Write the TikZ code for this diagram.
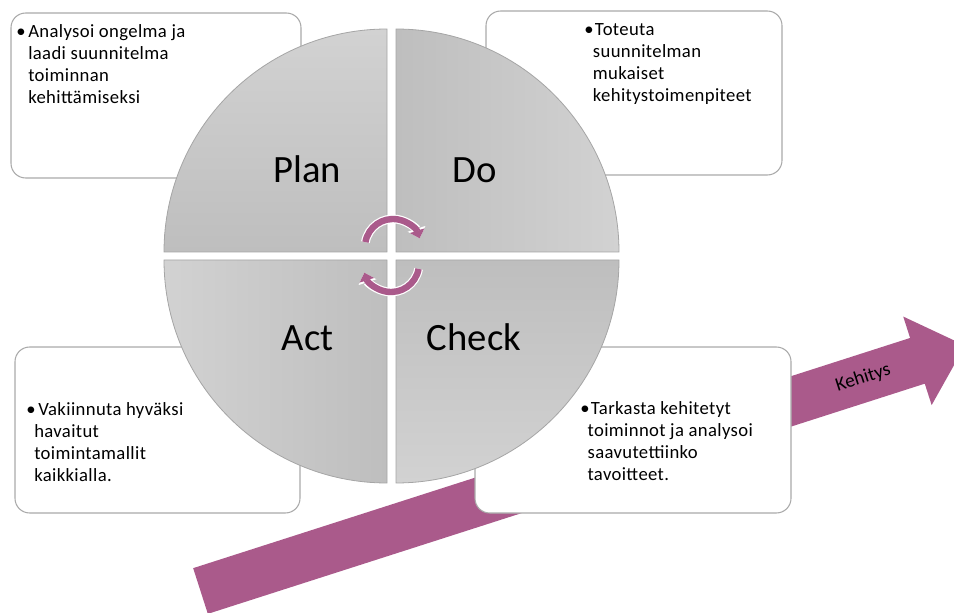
\documentclass[tikz,border=0pt]{standalone}
\usepackage{fontspec}
\setmainfont{Carlito}
\newfontfamily\notefont{Carlito}[LetterSpace=2]
\usepackage{xcolor}
\usetikzlibrary{arrows.meta,positioning}
\definecolor{cyclepurple}{RGB}{170,90,139}
\definecolor{boxgray}{RGB}{170,170,170}
\definecolor{quadlight}{RGB}{210,210,210}
\definecolor{quaddark}{RGB}{190,190,190}
\definecolor{quadedge}{RGB}{165,165,165}

\newcommand{\dotmark}[1]{\makebox[#1][l]{\textbullet}}
\newcommand{\dotgap}[1]{\hspace*{#1}}

\tikzset{
  infobox/.style={draw=boxgray, line width=0.8pt, rounded corners=11pt, fill=white},
  quarter/.style={draw=quadedge, line width=0.6pt},
  % anchored on the baseline of the last line
  notetext/.style={anchor=base west, inner sep=0pt, align=left,
    font=\notefont\fontsize{14pt}{16.5pt}\selectfont},
  phase/.style={anchor=base, inner sep=0pt, font=\fontsize{29pt}{34pt}\selectfont},
  turnedge/.style={white, line width=6.6pt, -{Triangle[width=13.5pt,length=7.5pt]}},
  turn/.style={cyclepurple, line width=4.8pt, -{Triangle[width=11pt,length=6pt]}},
}

\begin{document}
\begin{tikzpicture}[x=0.75pt, y=-0.75pt]
    \clip (0,0) rectangle (954,613);

    % growth arrow, behind everything else
    \begin{scope}[shift={(200.5,591)}, rotate=17.8]
        \fill[cyclepurple] (0,-24) -- (753,-24) -- (753,-46.5) -- (803,0)
            -- (753,46.5) -- (753,24) -- (0,24) -- cycle;
        \node[transform shape, inner sep=0pt, font=\fontsize{14.5pt}{16pt}\selectfont]
            (growth) at (696,0) {Kehitys};
    \end{scope}

    % note boxes
    \draw[infobox] (11,13) rectangle (301,178);
    \draw[infobox] (486,11) rectangle (782,175);
    \draw[infobox] (15,347) rectangle (300,513);
    \draw[infobox] (475,347) rectangle (791,513);

    % the four quarters of the cycle
    \draw[quarter, top color=quadlight, bottom color=quaddark]
        (387,252) -- (164,252) arc[start angle=180, end angle=270, radius=223] -- cycle;
    \draw[quarter, left color=quaddark, right color=quadlight]
        (396,252) -- (396,29) arc[start angle=270, end angle=360, radius=223] -- cycle;
    \draw[quarter, top color=quaddark, bottom color=quadlight]
        (396,260) -- (619,260) arc[start angle=0, end angle=90, radius=223] -- cycle;
    \draw[quarter, left color=quadlight, right color=quaddark]
        (387,260) -- (387,483) arc[start angle=90, end angle=180, radius=223] -- cycle;

    \node[phase] (plan) at (307,183) {Plan};
    \node[phase] (do) at (474.5,183) {Do};
    \node[phase] (act) at (307.5,350) {Act};
    \node[phase] (check) at (474,350) {Check};

    % turning arrows in the middle
    \draw[turnedge] (393,247) ++(190:28) arc[start angle=190, end angle=342, radius=28];
    \draw[turn] (393,247) ++(190:28) arc[start angle=190, end angle=342, radius=28];
    \draw[turnedge] (391,264) ++(10:28) arc[start angle=10, end angle=162, radius=28];
    \draw[turn] (391,264) ++(10:28) arc[start angle=10, end angle=162, radius=28];

    % note texts
    \node[notetext] (planNote) at (16,104) {\dotmark{9pt}Analysoi ongelma ja\\
        \dotgap{9pt}laadi suunnitelma\\ \dotgap{9pt}toiminnan\\ \dotgap{9pt}kehittämiseksi};
    \node[notetext] (doNote) at (584,102) {\dotmark{8pt}Toteuta\\
        \dotgap{6.5pt}suunnitelman\\ \dotgap{6.5pt}mukaiset\\ \dotgap{6.5pt}kehitystoimenpiteet};
    \node[notetext] (actNote) at (26,481) {\dotmark{9pt}Vakiinnuta hyväksi\\
        \dotgap{6pt}havaitut\\ \dotgap{6pt}toimintamallit\\ \dotgap{6pt}kaikkialla.};
    \node[notetext] (checkNote) at (580,480) {\dotmark{8pt}Tarkasta kehitetyt\\
        \dotgap{5.5pt}toiminnot ja analysoi\\ \dotgap{5.5pt}saavutettiinko\\ \dotgap{5.5pt}tavoitteet.};
\end{tikzpicture}
\end{document}
